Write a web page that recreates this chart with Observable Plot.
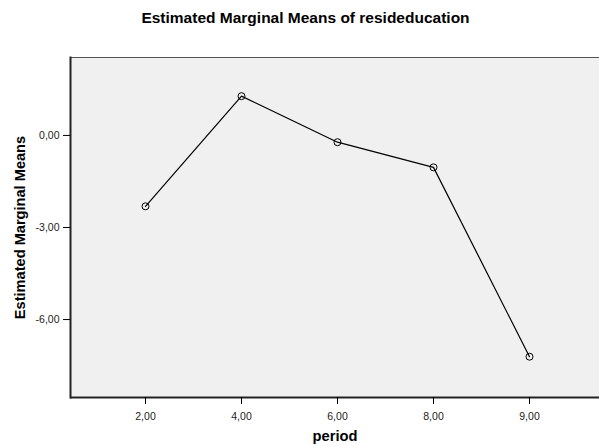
<!DOCTYPE html>
<html>
<head>
<meta charset="utf-8">
<script src="https://cdn.jsdelivr.net/npm/d3@7"></script>
<script src="https://cdn.jsdelivr.net/npm/@observablehq/plot@0.6"></script>
<style>
  html, body { margin: 0; padding: 0; background: #fff; }
  body { width: 599px; height: 446px; overflow: hidden; font-family: "Liberation Sans", Arial, Helvetica, sans-serif; }
  #title { height: 35px; line-height: 35px; text-align: center; padding-left: 12px; box-sizing: border-box; width: 599px;
           font-size: 15.5px; font-weight: bold; color: #000; }
  #chart svg { display: block; }
</style>
</head>
<body>
<div id="title">Estimated Marginal Means of resideducation</div>
<div id="chart"></div>
<script>
const periods = [2, 4, 6, 8, 9];
const means = [-2.31, 1.28, -0.22, -1.04, -7.21];
const yTicks = [0, -3, -6];
const xLabel = "period";
const yLabel = "Estimated Marginal Means";

const data = periods.map((p, i) => ({period: p, mean: means[i]}));
const fmt = d => d.toFixed(2).replace(".", ",");
const yDomain = [-8.54, 2.54];

const chart = Plot.plot({
  width: 599,
  height: 411,
  marginLeft: 70,
  marginRight: 0,
  marginTop: 22,
  marginBottom: 49,
  style: {fontFamily: '"Liberation Sans", Arial, Helvetica, sans-serif', fontSize: "10.5px", color: "#000", background: "#fff"},
  x: {type: "point", domain: periods, padding: 0.755, align: 0.517},
  y: {domain: yDomain},
  marks: [
    Plot.frame({fill: "#f0f0f0"}),
    Plot.ruleY([yDomain[1]], {stroke: "#555", strokeWidth: 1}),
    Plot.ruleY([yDomain[0]], {stroke: "#222", strokeWidth: 2}),
    Plot.frame({anchor: "left", stroke: "#222", strokeWidth: 2}),
    Plot.axisX({ticks: periods, tickFormat: fmt, tickSize: 7, tickPadding: 8, label: null, fontSize: 10.5, fill: "#222"}),
    Plot.axisY({ticks: yTicks, tickFormat: fmt, tickSize: 7, tickPadding: 4, label: null, fontSize: 10.5, fill: "#222"}),
    Plot.line(data, {x: "period", y: "mean", stroke: "#000", strokeWidth: 1.2}),
    Plot.dot(data, {x: "period", y: "mean", r: 3.5, stroke: "#000", fill: "none", strokeWidth: 1}),
    Plot.text([yLabel], {frameAnchor: "left", textAnchor: "middle", lineAnchor: "middle", rotate: -90, dx: -50, fontSize: 14.6, fontWeight: "bold", fill: "#000"}),
    Plot.text([xLabel], {frameAnchor: "bottom", textAnchor: "middle", dy: 43.5, fontSize: 14.7, fontWeight: "bold", fill: "#000"})
  ]
});
document.getElementById("chart").appendChild(chart);
</script>
</body>
</html>
